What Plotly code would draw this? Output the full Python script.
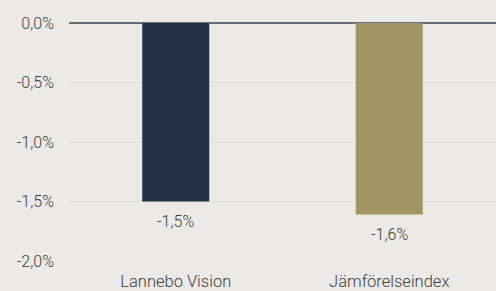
import plotly.graph_objects as go

categories = ["Lannebo Vision", "Jämförelseindex"]
values = [-1.50, -1.61]
bar_colors = ["#27314A", "#A39464"]
tick_vals = [0.0, -0.5, -1.0, -1.5, -2.0]

def pct(v):
    return f"{v:.1f}%".replace(".", ",")

labels = [pct(v) for v in values]
tick_text = [pct(v) for v in tick_vals]

fig = go.Figure(go.Bar(
    x=categories, y=values,
    marker=dict(color=bar_colors, line=dict(width=0)),
    cliponaxis=False,
))

for c, v, t in zip(categories, values, labels):
    fig.add_annotation(
        x=c, y=v, text=t, showarrow=False, yanchor="top", yshift=-8,
        font=dict(size=16, color="#3C3C3C", family="Roboto", weight=300),
    )

fig.update_layout(
    width=496, height=291,
    margin=dict(l=69, r=0, t=23, b=30),
    paper_bgcolor="#ECEAE6", plot_bgcolor="#ECEAE6",
    font=dict(family="Roboto", size=16, color="#3C3C3C", weight=300),
    bargap=0.686,
    showlegend=False,
)
fig.update_yaxes(
    range=[-2.0, 0.0], tickvals=tick_vals, ticktext=tick_text,
    showgrid=True, gridcolor="#DCDBDF", gridwidth=1,
    zeroline=True, zerolinecolor="#696D76", zerolinewidth=2,
    showline=False, ticklabelstandoff=14, automargin=False,
)
fig.update_xaxes(showline=False, showgrid=False, ticks="", ticklabelstandoff=8,
                 tickfont=dict(size=16.5), automargin=False)

fig.write_html("out.html", config={"displayModeBar": False},
               post_script="document.body.style.margin='0';document.body.style.background='#ECEAE6';")
